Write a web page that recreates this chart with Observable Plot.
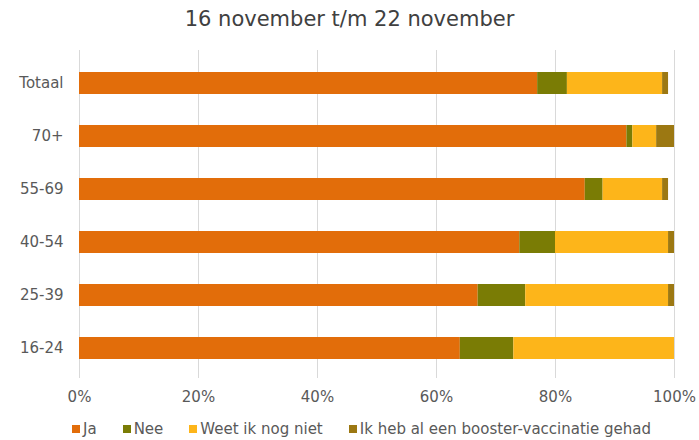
<!DOCTYPE html>
<html>
<head>
<meta charset="utf-8">
<script src="https://cdn.jsdelivr.net/npm/d3@7"></script>
<script src="https://cdn.jsdelivr.net/npm/@observablehq/plot@0.6"></script>
<style>
  body { margin: 0; background: #fff; font-family: "DejaVu Sans", sans-serif; }
  #wrap { width: 699px; height: 440px; position: relative; overflow: hidden; }
  #title { height: 40px; line-height: 38px; text-align: center; font-size: 21px; color: #404040; }
  #legend { display: flex; align-items: center; height: 28px; padding-left: 72px; font-size: 15px; color: #595959; }
  .item { display: flex; align-items: center; margin-right: 26px; }
  .sw { width: 8px; height: 8px; margin-right: 3px; }
</style>
</head>
<body>
<div id="wrap">
  <div id="title">16 november t/m 22 november</div>
  <div id="chart"></div>
  <div id="legend"></div>
</div>
<script>
const categories = ["Totaal", "70+", "55-69", "40-54", "25-39", "16-24"];
const seriesNames = ["Ja", "Nee", "Weet ik nog niet", "Ik heb al een booster-vaccinatie gehad"];
const seriesColors = ["#E26D0A", "#7A7C05", "#FDB51A", "#9C7812"];
const ja      = [77, 92, 85, 74, 67, 64];
const nee     = [5, 1, 3, 6, 8, 9];
const weet    = [16, 4, 10, 19, 24, 27];
const booster = [1, 3, 1, 1, 1, 0];
const xTicks = [0, 20, 40, 60, 80, 100];

const seriesValues = [ja, nee, weet, booster];
const data = [];
categories.forEach((c, i) => {
  seriesNames.forEach((s, j) => {
    data.push({cat: c, series: s, value: seriesValues[j][i]});
  });
});

const chart = Plot.plot({
  width: 699,
  height: 375,
  marginTop: 14,
  marginBottom: 38,
  marginLeft: 79,
  marginRight: 25,
  style: {fontFamily: "DejaVu Sans, sans-serif", fontSize: "15px", color: "#595959", background: "#fff"},
  x: {domain: [0, 100], ticks: xTicks, tickFormat: d => d + "%", tickSize: 0, tickPadding: 14, label: null},
  y: {domain: categories, paddingInner: 0.59, paddingOuter: 0.3, tickSize: 0, tickPadding: 16, label: null},
  color: {domain: seriesNames, range: seriesColors},
  marks: [
    Plot.ruleX(xTicks, {stroke: "#d9d9d9", strokeWidth: 1, insetTop: -4, insetBottom: -1}),
    Plot.barX(data, {x: "value", y: "cat", fill: "series", order: seriesNames})
  ]
});
document.getElementById("chart").appendChild(chart);

const legend = document.getElementById("legend");
seriesNames.forEach((s, i) => {
  const item = document.createElement("div");
  item.className = "item";
  const sw = document.createElement("span");
  sw.className = "sw";
  sw.style.background = seriesColors[i];
  const t = document.createElement("span");
  t.textContent = s;
  item.appendChild(sw);
  item.appendChild(t);
  legend.appendChild(item);
});
</script>
</body>
</html>
